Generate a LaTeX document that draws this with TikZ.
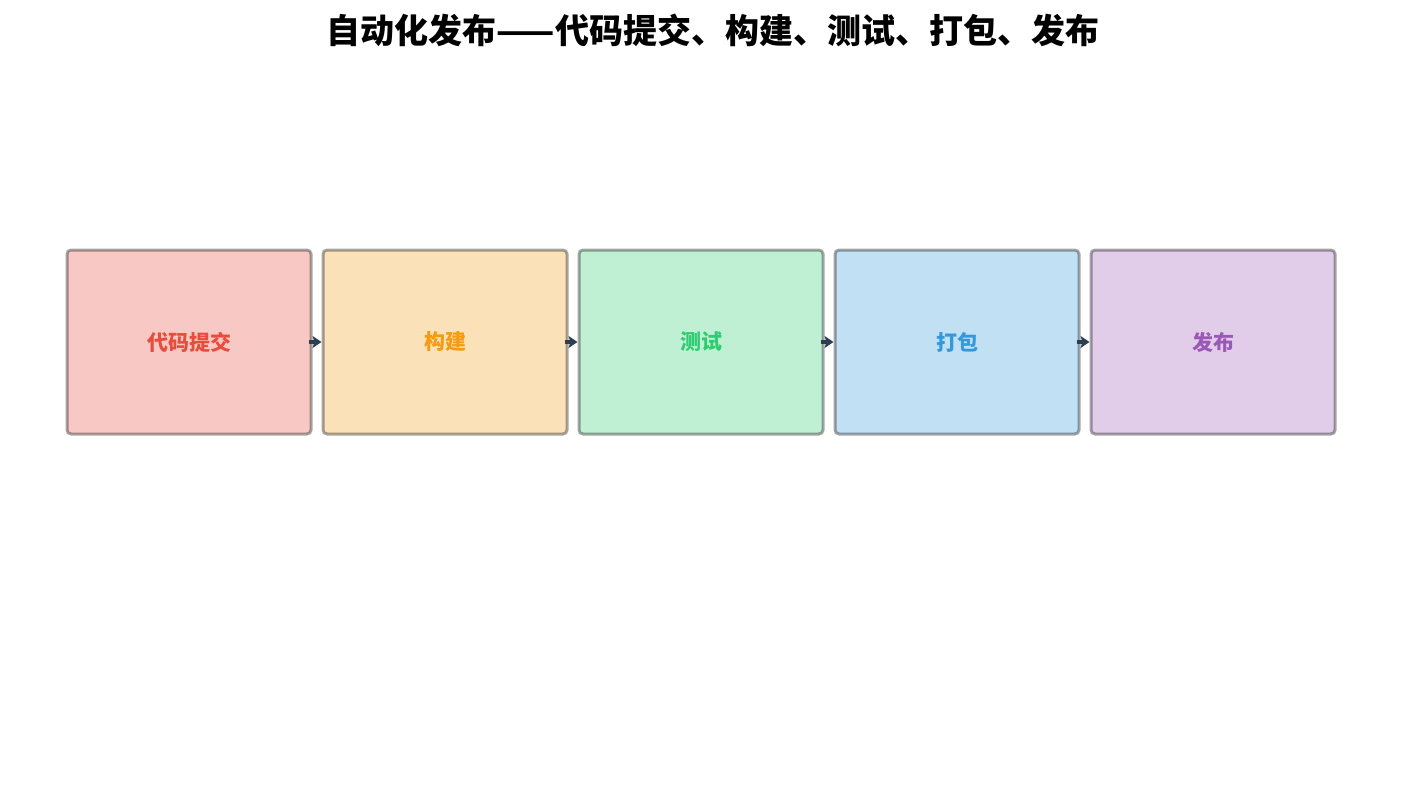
\documentclass[tikz,border=0pt]{standalone}
\usepackage{fontspec}
\setmainfont{Noto Sans CJK SC}
\usetikzlibrary{positioning, arrows.meta}

\definecolor{cred}{HTML}{E74C3C}
\definecolor{corange}{HTML}{F39C12}
\definecolor{cgreen}{HTML}{2ECC71}
\definecolor{cblue}{HTML}{3498DB}
\definecolor{cpurple}{HTML}{9B59B6}
\definecolor{cdark}{HTML}{2C3E50}

\begin{document}
\begin{tikzpicture}[x = 1pt, y = -1pt,
    stage/.style = {draw = black, draw opacity = 0.35, line width = 3pt, rounded corners = 4pt,
      minimum width = 244pt, minimum height = 184pt, inner sep = 0pt,
      font = \fontsize{21}{25}\selectfont\bfseries},
    flow/.style = {-{Stealth[length = 9pt, width = 12pt, inset = 2pt]}, line width = 4.5pt, cdark, shorten <= -4pt}]
    \useasboundingbox (0, 0) rectangle (1425, 790);

    \node[font = \fontsize{34}{40}\selectfont\bfseries] (title) at (713, 30) {自动化发布——代码提交、构建、测试、打包、发布};

    \node[stage, fill = cred, fill opacity = 0.3, text opacity = 1, text = cred] (commit) at (189, 342) {代码提交};
    \node[stage, fill = corange, fill opacity = 0.3, text opacity = 1, text = corange, right = 9pt of commit] (build) {构建};
    \node[stage, fill = cgreen, fill opacity = 0.3, text opacity = 1, text = cgreen, right = 9pt of build] (test) {测试};
    \node[stage, fill = cblue, fill opacity = 0.3, text opacity = 1, text = cblue, right = 9pt of test] (pack) {打包};
    \node[stage, fill = cpurple, fill opacity = 0.3, text opacity = 1, text = cpurple, right = 9pt of pack] (release) {发布};

    \draw[flow] (commit) -- (build);
    \draw[flow] (build) -- (test);
    \draw[flow] (test) -- (pack);
    \draw[flow] (pack) -- (release);
\end{tikzpicture}
\end{document}
